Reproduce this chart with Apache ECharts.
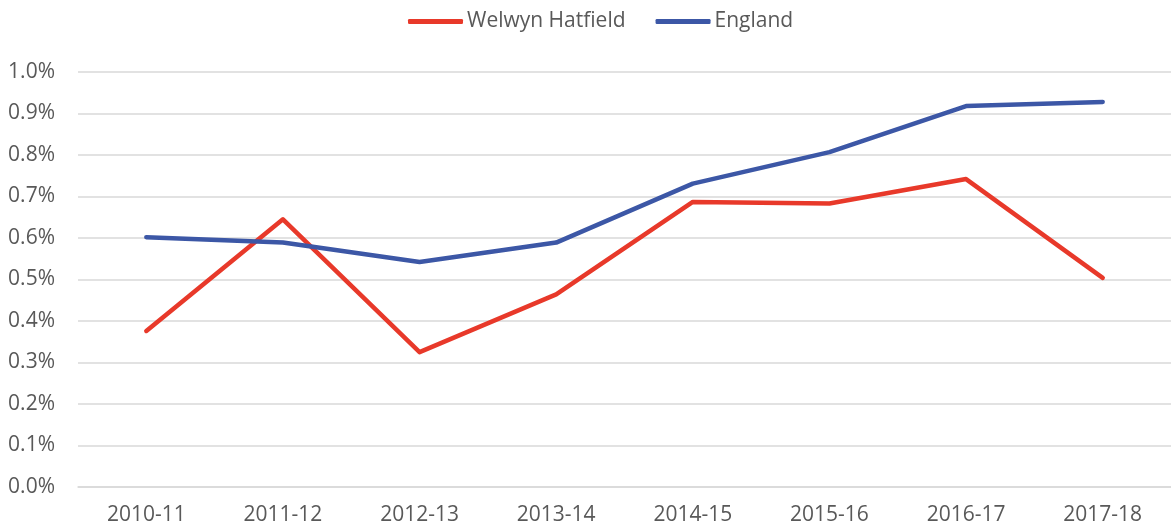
<!DOCTYPE html>
<html>
<head>
<meta charset="utf-8">
<script src="https://cdn.jsdelivr.net/npm/echarts@6/dist/echarts.min.js"></script>
<style>
  html, body { margin: 0; padding: 0; background: #fff; }
  #chart { width: 1171px; height: 530px; }
</style>
</head>
<body>
<div id="chart"></div>
<script>
const years = ['2010-11', '2011-12', '2012-13', '2013-14', '2014-15', '2015-16', '2016-17', '2017-18']
const welwyn = [0.376, 0.645, 0.325, 0.464, 0.687, 0.683, 0.742, 0.504]
const england = [0.602, 0.589, 0.542, 0.589, 0.731, 0.807, 0.918, 0.928]

const textColor = '#595959'
const gridColor = '#D9D9D9'
const font = 'Open Sans'

const chart = echarts.init(document.getElementById('chart'))
chart.setOption({
  animation: false,
  legend: {
    top: 6, left: 403,
    itemWidth: 55, itemHeight: 5, itemGap: 30,
    icon: 'roundRect',
    textStyle: { color: textColor, fontSize: 21, fontFamily: font, padding: [0, 0, 0, -1] },
    data: ['Welwyn Hatfield', 'England']
  },
  grid: { left: 78, right: -2, top: 72, bottom: 43 },
  xAxis: {
    type: 'category', data: years,
    axisLine: { lineStyle: { color: gridColor, width: 1.5 } },
    axisTick: { show: false },
    axisLabel: { color: textColor, fontSize: 21, fontFamily: font, margin: 18 }
  },
  yAxis: {
    type: 'value', min: 0, max: 1.0, interval: 0.1,
    axisLine: { show: false }, axisTick: { show: false },
    axisLabel: { color: textColor, fontSize: 21, fontFamily: font, margin: 23, formatter: v => v.toFixed(1) + '%' },
    splitLine: { lineStyle: { color: gridColor, width: 1.5 } }
  },
  series: [
    { name: 'Welwyn Hatfield', type: 'line', data: welwyn, symbol: 'none', color: '#E8392A',
      lineStyle: { width: 4.5, cap: 'round', join: 'round' } },
    { name: 'England', type: 'line', data: england, symbol: 'none', color: '#3C57A6',
      lineStyle: { width: 4.5, cap: 'round', join: 'round' } }
  ]
})
</script>
</body>
</html>
